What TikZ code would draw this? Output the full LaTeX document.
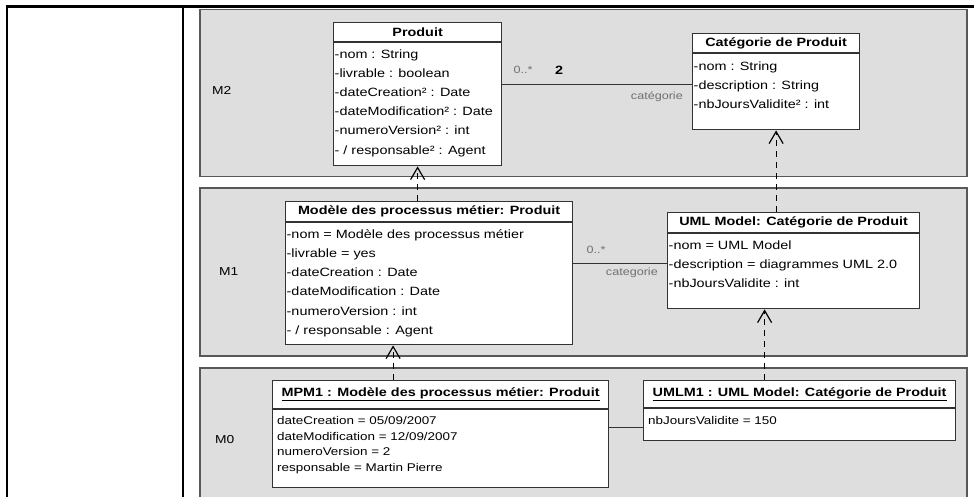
\documentclass[tikz,border=0pt]{standalone}
\usepackage{fontspec}
\setmainfont{Liberation Sans}[FakeStretch=1.2]
\usetikzlibrary{positioning,arrows.meta}
\definecolor{panelfill}{HTML}{DEDEDE}
\definecolor{paneledge}{HTML}{585858}
\definecolor{boxedge}{HTML}{333333}
\definecolor{rolegray}{HTML}{707070}
\tikzset{
  panel/.style={draw=paneledge,fill=panelfill,line width=1.3pt},
  hdr/.style={draw=boxedge,fill=white,line width=1.2pt,anchor=north west,inner sep=0pt,
    font=\fontsize{12}{13}\selectfont\bfseries},
  body/.style={draw=boxedge,fill=white,line width=1.2pt,inner sep=0pt},
  attrs/.style={align=left,inner sep=0pt,font=\fontsize{12}{19.2}\selectfont},
  vals/.style={align=left,inner sep=0pt,font=\fontsize{11.2}{15.6}\selectfont},
  level/.style={anchor=west,inner sep=0pt,font=\fontsize{11.5}{12}\selectfont},
  role/.style={text=rolegray,inner sep=0pt,font=\fontsize{10.5}{12}\selectfont},
  assoc/.style={draw=boxedge,line width=1.2pt},
  realise/.style={line width=1.2pt,dash pattern=on 6pt off 5pt,
    -{Straight Barb[length=12pt,width=14pt]}}
}

\begin{document}
\begin{tikzpicture}[x=1pt,y=-1pt]
\useasboundingbox (0,0) rectangle (974,497);
% frame and levels
\draw[line width=2.4pt] (7,6.5) -- (974,6.5);
\draw[line width=2.4pt] (7,5.3) -- (7,497);
\draw[line width=2.4pt] (183,5.3) -- (183,497);
\draw[panel] (200,9.5) rectangle (967,176.5);
\draw[panel] (200,188) rectangle (967,356);
\draw[panel] (200,368) rectangle (967,510);
\node[level] (m2) at (212,90) {M2};
\node[level] (m1) at (219,272) {M1};
\node[level] (m0) at (215,440) {M0};

% M2
\node[hdr, minimum width=168, minimum height=19] (produitH) at (333,22) {Produit};
\node[body, minimum width=168, minimum height=123, below=0pt of produitH] (produitB) {};
\node[attrs, below right=7pt and 1.5pt of produitB.north west] (produitA)
  {-nom : String\\-livrable : boolean\\-dateCreation² : Date\\-dateModification² : Date\\
   -numeroVersion² : int\\- / responsable² : Agent};

\node[hdr, minimum width=167, minimum height=19] (categorieH) at (692,33) {Catégorie de Produit};
\node[body, minimum width=167, minimum height=76, below=0pt of categorieH] (categorieB) {};
\node[attrs, below right=8pt and 1.5pt of categorieB.north west] (categorieA)
  {-nom : String\\-description : String\\-nbJoursValidite² : int};

\draw[assoc] ([yshift=7pt]categorieB.west) -- ([yshift=7pt]categorieB.west -| produitB.east);
\node[role] (m2mult) at (523,70) {0..*};
\node[font=\fontsize{12}{13}\selectfont\bfseries,inner sep=0pt] (m2card) at (559,70) {2};
\node[role, anchor=east] (m2role) at (683,97) {catégorie};

% M1
\node[hdr, minimum width=287, minimum height=20] (modeleH) at (285,201) {Modèle des processus métier: Produit};
\node[body, minimum width=287, minimum height=122, below=0pt of modeleH] (modeleB) {};
\node[attrs, below right=7pt and 1.5pt of modeleB.north west] (modeleA)
  {-nom = Modèle des processus métier\\-livrable = yes\\-dateCreation : Date\\-dateModification : Date\\
   -numeroVersion : int\\- / responsable : Agent};

\node[hdr, minimum width=252, minimum height=20] (umlmodelH) at (667,212) {UML Model: Catégorie de Produit};
\node[body, minimum width=252, minimum height=75, below=0pt of umlmodelH] (umlmodelB) {};
\node[attrs, below right=7.5pt and 1.5pt of umlmodelB.north west] (umlmodelA)
  {-nom = UML Model\\-description = diagrammes UML 2.0\\-nbJoursValidite : int};

\draw[assoc] ([yshift=7.5pt]umlmodelB.west) -- ([yshift=7.5pt]umlmodelB.west -| modeleB.east);
\node[role] (m1mult) at (596,250) {0..*};
\node[role, anchor=east] (m1role) at (658,273) {categorie};

% M0
\node[hdr, minimum width=336, minimum height=28] (mpmH) at (272,380) {\underline{MPM1 : Modèle des processus métier: Produit}};
\node[body, minimum width=336, minimum height=78, below=0pt of mpmH] (mpmB) {};
\node[vals, below right=7pt and 5pt of mpmB.north west] (mpmA)
  {dateCreation = 05/09/2007\\dateModification = 12/09/2007\\numeroVersion = 2\\responsable = Martin Pierre};

\node[hdr, minimum width=312, minimum height=27] (umlmH) at (643,380) {\underline{UMLM1 : UML Model: Catégorie de Produit}};
\node[body, minimum width=312, minimum height=32, below=0pt of umlmH] (umlmB) {};
\node[vals, below right=7.5pt and 5pt of umlmB.north west] (umlmA) {nbJoursValidite = 150};

\draw[assoc] ([yshift=-3pt]umlmB.west) -- ([yshift=-3pt]umlmB.west -| mpmB.east);

% instanciation
\draw[realise] (modeleH.north -| produitB.south) -- (produitB.south);
\draw[realise] (umlmodelH.north -| categorieB.south) -- (categorieB.south);
\draw[realise] ([xshift=-36pt]modeleB.south |- mpmH.north) -- ([xshift=-36pt]modeleB.south);
\draw[realise] ([xshift=-29pt]umlmodelB.south |- umlmH.north) -- ([xshift=-29pt]umlmodelB.south);
\end{tikzpicture}
\end{document}
